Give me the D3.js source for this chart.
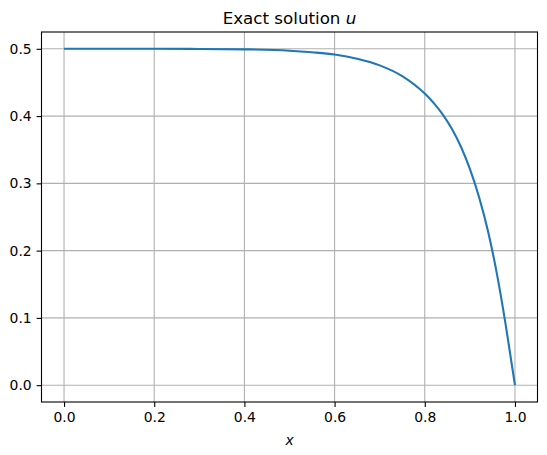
<!DOCTYPE html>
<html>
<head>
<meta charset="utf-8">
<script src="https://cdn.jsdelivr.net/npm/d3@7"></script>
<style>
  body { margin: 0; background: #fff; }
  svg { font-family: "DejaVu Sans", sans-serif; }
</style>
</head>
<body>
<script>
// values
const xs = [0.0, 0.1, 0.2, 0.3, 0.4, 0.5, 0.55, 0.6, 0.65, 0.7, 0.75, 0.8, 0.82, 0.84, 0.86, 0.88, 0.9, 0.92, 0.94, 0.96, 0.98, 1.0];
const us = [0.5, 0.5, 0.5, 0.4998, 0.4992, 0.4972, 0.4948, 0.4915, 0.4853, 0.4754, 0.4594, 0.4334, 0.4193, 0.4023, 0.3813, 0.3548, 0.3215, 0.2805, 0.2295, 0.1655, 0.0875, 0.0];
const xTicks = [0.0, 0.2, 0.4, 0.6, 0.8, 1.0];
const yTicks = [0.0, 0.1, 0.2, 0.3, 0.4, 0.5];

// plot area in page pixels
const margin = { top: 32, right: 9.5, bottom: 53, left: 41.5 },
    width = 547 - margin.left - margin.right,
    height = 455 - margin.top - margin.bottom;

const svg = d3.select("body")
    .append("svg")
    .attr("width", 547)
    .attr("height", 455)
    .append("g")
    .attr("transform", "translate(" + margin.left + "," + margin.top + ")");

const x = d3.scaleLinear().domain([-0.05, 1.05]).range([0, width]);
const y = d3.scaleLinear().domain([-0.025, 0.525]).range([height, 0]);

// grid
svg.append("g")
    .selectAll("line")
    .data(xTicks)
    .enter()
    .append("line")
    .attr("x1", d => x(d)).attr("x2", d => x(d))
    .attr("y1", 0).attr("y2", height)
    .attr("stroke", "#b0b0b0").attr("stroke-width", 1.1);

svg.append("g")
    .selectAll("line")
    .data(yTicks)
    .enter()
    .append("line")
    .attr("y1", d => y(d)).attr("y2", d => y(d))
    .attr("x1", 0).attr("x2", width)
    .attr("stroke", "#b0b0b0").attr("stroke-width", 1.1);

// the curve
const line = d3.line()
    .x((d, i) => x(xs[i]))
    .y(d => y(d))
    .curve(d3.curveMonotoneX);

svg.append("path")
    .datum(us)
    .attr("fill", "none")
    .attr("stroke", "#1f77b4")
    .attr("stroke-width", 2.1)
    .attr("d", line);

// axes
const xAxis = d3.axisBottom(x).tickValues(xTicks).tickFormat(d3.format(".1f")).tickSize(4.9).tickPadding(4.9);
const yAxis = d3.axisLeft(y).tickValues(yTicks).tickFormat(d3.format(".1f")).tickSize(4.9).tickPadding(4.9);

const gx = svg.append("g")
    .attr("transform", "translate(0," + height + ")")
    .call(xAxis);
const gy = svg.append("g").call(yAxis);

[gx, gy].forEach(g => {
    g.select(".domain").remove();
    g.selectAll(".tick line").attr("stroke", "#000").attr("stroke-width", 1.1);
    g.selectAll(".tick text")
        .attr("fill", "#000")
        .style("font-family", "DejaVu Sans")
        .style("font-size", "13.9px");
});

// frame
svg.append("rect")
    .attr("width", width)
    .attr("height", height)
    .attr("fill", "none")
    .attr("stroke", "#000")
    .attr("stroke-width", 1.1);

// title
const title = svg.append("text")
    .attr("x", width / 2)
    .attr("y", -8)
    .attr("text-anchor", "middle")
    .style("font-size", "16.7px")
    .attr("fill", "#000");
title.append("tspan").text("Exact solution ");
title.append("tspan").style("font-style", "italic").text("u");

// x label
svg.append("text")
    .attr("x", width / 2)
    .attr("y", height + 43)
    .attr("text-anchor", "middle")
    .style("font-size", "13.9px")
    .style("font-style", "italic")
    .attr("fill", "#000")
    .text("x");
</script>
</body>
</html>
